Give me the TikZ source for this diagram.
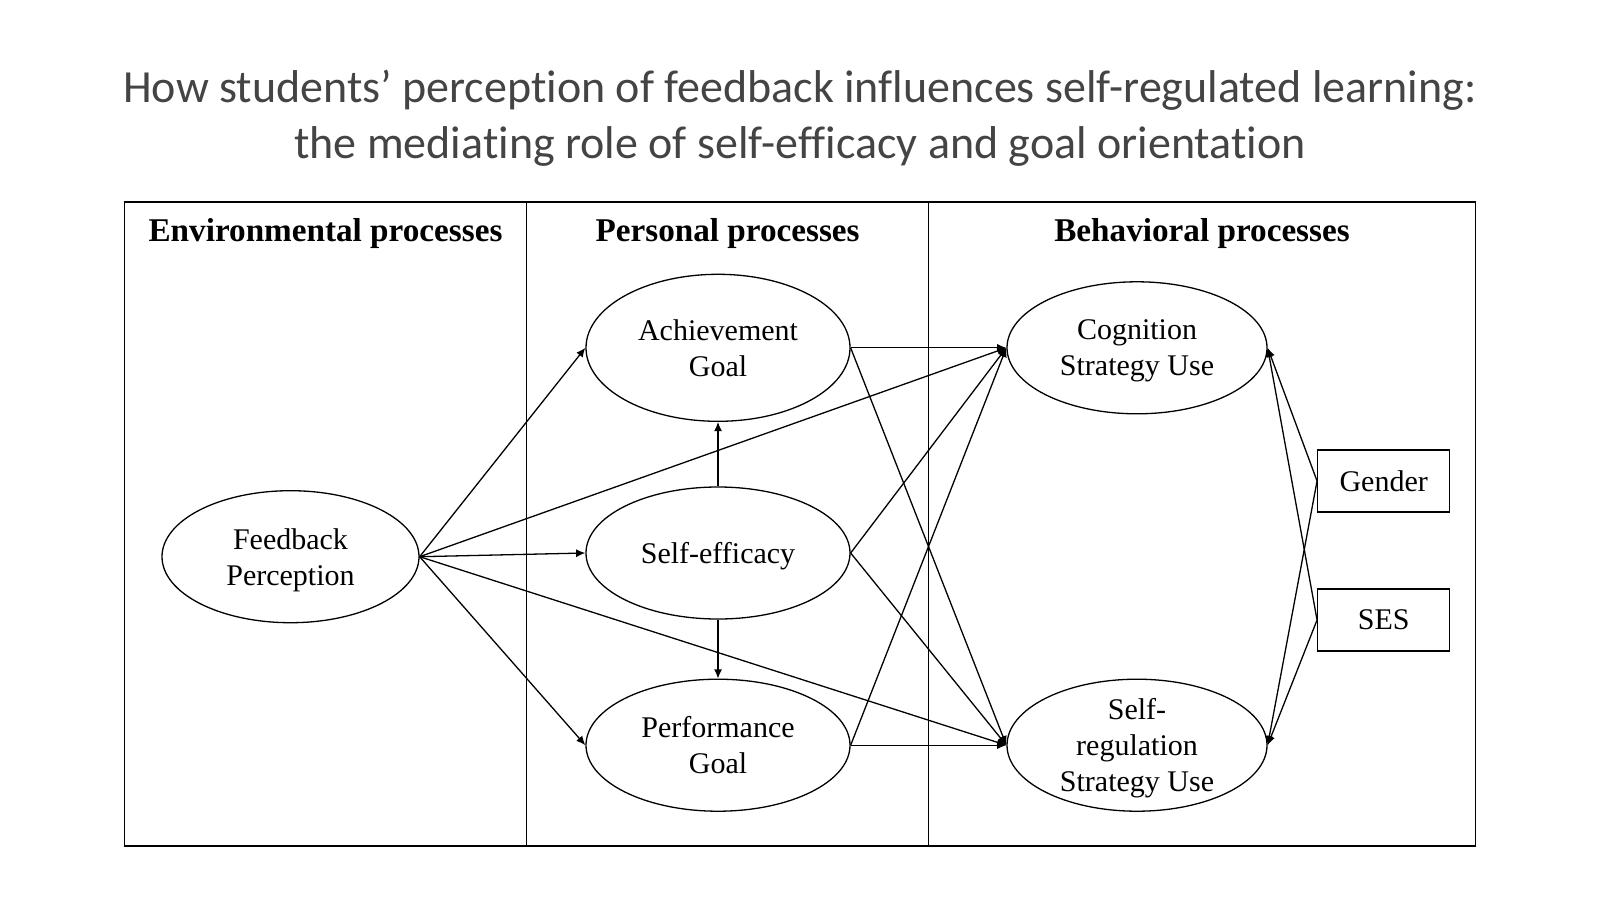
\documentclass[tikz,border=0pt]{standalone}
\usepackage{fontspec}
\setmainfont{Liberation Serif}
\newfontfamily\titlefont[Ligatures=NoCommon]{Carlito}
\usepackage{tikz}
\usetikzlibrary{shapes.geometric, arrows.meta, positioning}
\definecolor{titlegray}{RGB}{68,68,68}
\tikzset{
  latent/.style={ellipse, draw, line width=0.65pt, minimum width=130pt,
    minimum height=66pt, inner sep=0pt, align=center, text depth=0pt,
    font=\fontsize{15}{18}\selectfont},
  covar/.style={rectangle, draw, line width=0.65pt, minimum width=66pt,
    minimum height=31pt, inner sep=0pt, font=\fontsize{15}{18}\selectfont},
  header/.style={font=\fontsize{16.6}{20}\selectfont\bfseries},
  arrow/.style={-{Latex[length=4.6pt,width=4pt]}, line width=0.65pt},
  frame/.style={line width=0.7pt}
}

\begin{document}
\begin{tikzpicture}[x=50pt, y=-50pt]
  \useasboundingbox (0,0) rectangle (16,9);

  % Title
  \node (title) at (8,1.18) [align=center, text=titlegray,
    font=\titlefont\fontsize{23}{28}\selectfont]
    {How students’ perception of feedback influences self-regulated learning:\\
     the mediating role of self-efficacy and goal orientation};

  % Panels
  \draw[frame] (1.245,2.02) rectangle (14.755,8.46);
  \draw[frame] (5.265,2.02) -- (5.265,8.46);
  \draw[frame] (9.286,2.02) -- (9.286,8.46);

  % Panel headers
  \node[header] (envhdr) at (3.255,2.34) {Environmental processes};
  \node[header] (pershdr) at (7.276,2.34) {Personal processes};
  \node[header] (behvhdr) at (12.02,2.34) {Behavioral processes};

  % Environmental
  \node[latent, minimum width=128.5pt] (fb) at (2.905,5.567) {Feedback\\Perception};

  % Personal
  \node[latent, minimum width=132pt, minimum height=73.5pt] (achv) at (7.18,3.478) {Achievement\\Goal};
  \node[latent, minimum width=132pt] (selfeff) at (7.18,5.53) {Self-efficacy};
  \node[latent, minimum width=132pt] (perf) at (7.18,7.452) {Performance\\Goal};

  % Behavioral
  \node[latent] (cog) at (11.37,3.478) {Cognition\\Strategy Use};
  \node[latent] (selfreg) at (11.37,7.452) {Self-\\regulation\\Strategy Use};

  % Covariates
  \node[covar] (gender) at (13.837,4.81) {Gender};
  \node[covar] (ses) at (13.837,6.20) {SES};

  % Paths from feedback perception
  \draw[arrow] (fb.east) -- (achv.west);
  \draw[arrow] (fb.east) -- (selfeff.west);
  \draw[arrow] (fb.east) -- (perf.west);
  \draw[arrow] (fb.east) -- (cog.west);
  \draw[arrow] (fb.east) -- (selfreg.west);

  % Self-efficacy to goals
  \draw[arrow] (selfeff.north) -- (achv.south);
  \draw[arrow] (selfeff.south) -- (perf.north);

  % Personal to behavioral
  \draw[arrow] (achv.east) -- (cog.west);
  \draw[arrow] (achv.east) -- (selfreg.west);
  \draw[arrow] (selfeff.east) -- (cog.west);
  \draw[arrow] (selfeff.east) -- (selfreg.west);
  \draw[arrow] (perf.east) -- (cog.west);
  \draw[arrow] (perf.east) -- (selfreg.west);

  % Covariates
  \draw[arrow] (gender.west) -- (cog.east);
  \draw[arrow] (gender.west) -- (selfreg.east);
  \draw[arrow] (ses.west) -- (cog.east);
  \draw[arrow] (ses.west) -- (selfreg.east);
\end{tikzpicture}
\end{document}
